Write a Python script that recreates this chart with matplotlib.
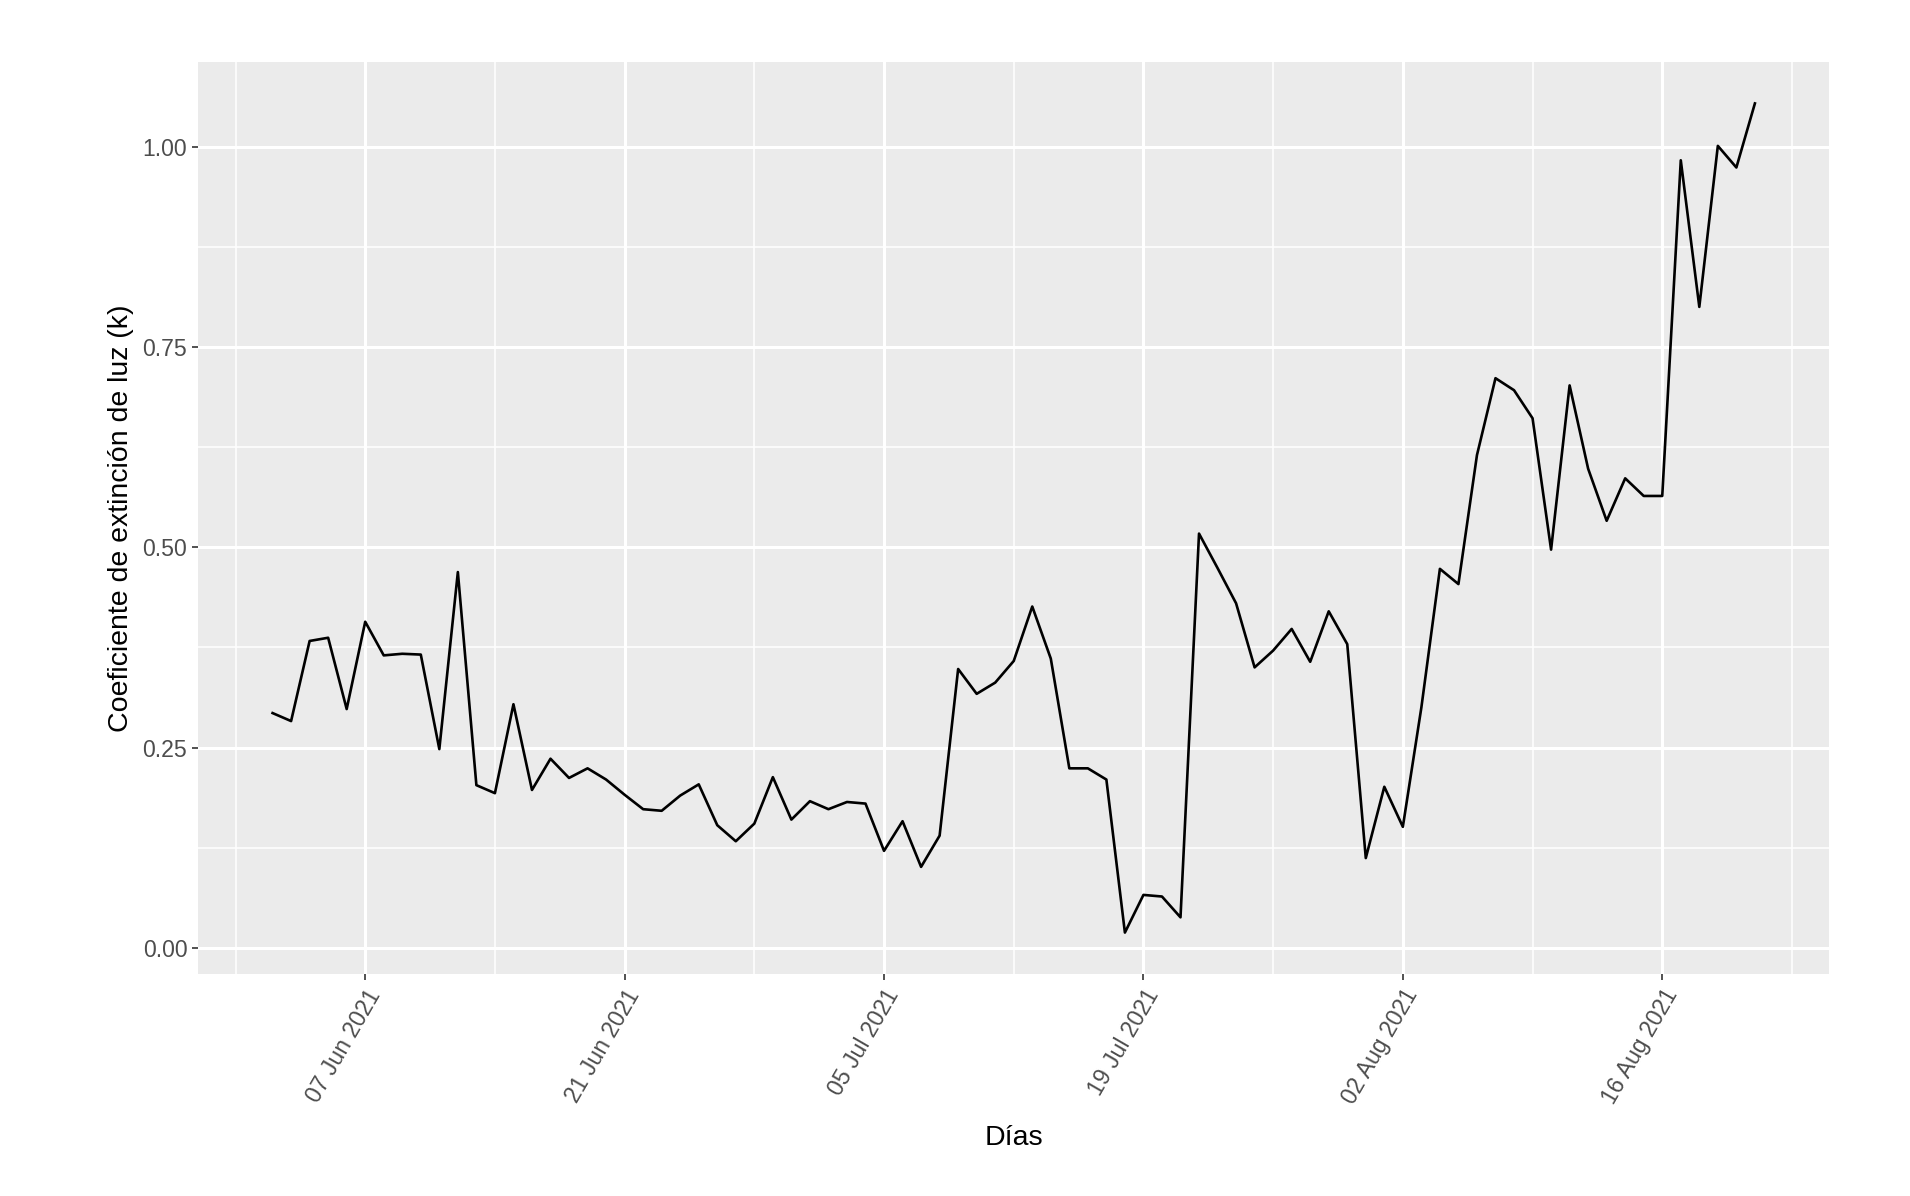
import matplotlib
matplotlib.use("Agg")
import matplotlib.pyplot as plt
import matplotlib.dates as mdates
import numpy as np
import pandas as pd

plt.rcParams['font.family'] = ['Liberation Sans', 'DejaVu Sans']

start_date = "2021-06-02"
k_values = [
    0.293, 0.283, 0.383, 0.387, 0.298, 0.407, 0.365, 0.367, 0.366, 0.248,
    0.469, 0.203, 0.193, 0.304, 0.197, 0.236, 0.212, 0.224, 0.210, 0.191,
    0.173, 0.171, 0.190, 0.204, 0.153, 0.133, 0.155, 0.213, 0.160, 0.183,
    0.173, 0.182, 0.180, 0.121, 0.158, 0.101, 0.140, 0.348, 0.317, 0.331,
    0.358, 0.426, 0.361, 0.224, 0.224, 0.210, 0.019, 0.066, 0.064, 0.038,
    0.517, 0.474, 0.430, 0.350, 0.371, 0.398, 0.357, 0.420, 0.379, 0.112,
    0.201, 0.151, 0.300, 0.473, 0.454, 0.615, 0.711, 0.696, 0.661, 0.497,
    0.702, 0.598, 0.533, 0.586, 0.564, 0.564, 0.983, 0.800, 1.001, 0.974,
    1.054,
]
dates = pd.date_range(start_date, periods=len(k_values), freq="D")

major_ticks = pd.to_datetime(["2021-06-07", "2021-06-21", "2021-07-05",
                              "2021-07-19", "2021-08-02", "2021-08-16"])
minor_ticks = pd.to_datetime(["2021-05-31", "2021-06-14", "2021-06-28",
                              "2021-07-12", "2021-07-26", "2021-08-09",
                              "2021-08-23"])
y_major = [0.00, 0.25, 0.50, 0.75, 1.00]
y_minor = [0.125, 0.375, 0.625, 0.875]

fig = plt.figure(figsize=(19.10, 11.96), dpi=100)
ax = fig.add_axes([0.1039, 0.1856, 0.8537, 0.7626])
ax.set_facecolor("#EBEBEB")

ax.plot(dates, k_values, color="black", linewidth=1.9, zorder=3)

xr = (dates[-1] - dates[0]) * 0.05
ax.set_xlim(dates[0] - xr, dates[-1] + xr)
ymin, ymax = min(k_values), max(k_values)
yr = (ymax - ymin) * 0.05
ax.set_ylim(ymin - yr, ymax + yr)

ax.set_xticks(major_ticks)
ax.set_xticks(minor_ticks, minor=True)
ax.xaxis.set_major_formatter(mdates.DateFormatter("%d %b %Y"))
ax.set_yticks(y_major)
ax.set_yticks(y_minor, minor=True)
ax.set_yticklabels([f"{v:.2f}" for v in y_major])

ax.grid(which="major", color="white", linewidth=2.2, zorder=0)
ax.grid(which="minor", color="white", linewidth=1.1, zorder=0)
ax.set_axisbelow(True)
for s in ax.spines.values():
    s.set_visible(False)

ax.tick_params(axis="both", which="major", length=4.5, width=1.2, color="#333333",
               labelsize=16.6, labelcolor="#4D4D4D", pad=3.5)
ax.tick_params(axis="both", which="minor", length=0)
for lab in ax.get_xticklabels():
    lab.set_rotation(60)
    lab.set_ha("right")
    lab.set_va("top")
    lab.set_rotation_mode("anchor")

ax.set_xlabel("Días", fontsize=20.5, color="black", labelpad=12)
ax.set_ylabel("Coeficiente de extinción de luz (k)", fontsize=20.5, color="black", labelpad=6)

fig.savefig("out.png", dpi=100, facecolor="white")
